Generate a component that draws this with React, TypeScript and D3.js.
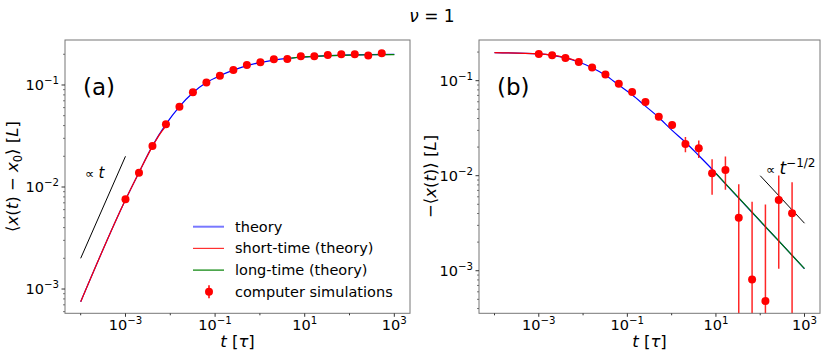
import React from 'react';
import * as d3 from 'd3';

const W = 830;
const H = 358;
const FONT = 'DejaVu Sans, sans-serif';

// simulation times (tau)
const simTimes = [0.001, 0.002, 0.004, 0.008, 0.016, 0.032, 0.064, 0.128, 0.256, 0.512,
  1.024, 2.048, 4.096, 8.192, 16.384, 32.768, 65.536, 131.072, 262.144, 524.288];

// panel (a): <x(t) - x0>
const simA = [0.00757, 0.0138, 0.0252, 0.0412, 0.0612, 0.0848, 0.106, 0.123, 0.140, 0.157,
  0.167, 0.179, 0.180, 0.191, 0.191, 0.197, 0.200, 0.200, 0.195, 0.205];
const errA = [0.0001, 0.0002, 0.0003, 0.0004, 0.0006, 0.0008, 0.001, 0.0012, 0.0015, 0.002,
  0.0025, 0.003, 0.0035, 0.004, 0.004, 0.0043, 0.0044, 0.0045, 0.0045, 0.0045];

// panel (b): -<x(t)>
const simB = [0.191, 0.185, 0.173, 0.157, 0.138, 0.116, 0.093, 0.076, 0.0597, 0.0418,
  0.0342, 0.0216, 0.0194, 0.0106, 0.0115, 0.00361, 0.00081, 0.00048, 0.00555, 0.00402];
const errB = [0.0003, 0.0004, 0.0005, 0.0006, 0.0008, 0.001, 0.0012, 0.0015, 0.002, 0.0025,
  0.003, 0.004, 0.004, 0.0043, 0.0044, 0.0045, 0.0045, 0.0045, 0.0045, 0.0045];

// theory curves
const theoryT = [1e-4, 1e-3, 2e-3, 4e-3, 8e-3, 0.016, 0.032, 0.064, 0.128, 0.256, 0.512,
  1.024, 2.048, 4.096, 8.192, 16.384, 32.768, 65.536, 131.072, 262.144, 1000];
const theoryA = [0.00075, 0.0075, 0.0139, 0.0253, 0.0413, 0.0615, 0.084, 0.1055, 0.1235, 0.140, 0.155,
  0.166, 0.175, 0.182, 0.187, 0.191, 0.194, 0.196, 0.1975, 0.1985, 0.1995];
const theoryB = [0.197, 0.191, 0.185, 0.174, 0.157, 0.137, 0.114, 0.090, 0.071, 0.054, 0.041,
  0.030, 0.0225, 0.0163, 0.0117, 0.0082, 0.0058, 0.0041, 0.0029, 0.00206, 0.00105];

const shortTA = [1e-4, 1e-3, 2e-3, 4e-3, 6e-3, 9e-3];
const shortA = [0.00075, 0.0075, 0.0139, 0.025, 0.0335, 0.042];
const shortTB = [1e-4, 1e-3, 2e-3, 4e-3, 6e-3, 9e-3];
const shortB = [0.197, 0.191, 0.1855, 0.1745, 0.166, 0.154];

const longTA = [5, 10, 30, 100, 300, 1000];
const longA = [0.1837, 0.1885, 0.1933, 0.1964, 0.1979, 0.1988];
const longTB = [10, 100, 1000];
const longB = [0.0106, 0.00334, 0.00105];

// power-law guides
const guideTA = [1e-4, 1e-3];
const guideA = [0.002, 0.02];
const guideTB = [100, 1000];
const guideB = [0.01, 0.00316];

const xTickExp = [-3, -1, 1, 3];
const xMinorExp = [-4, -2, 0, 2];
const yTickExp = [-3, -2, -1];

const legendItems = ['theory', 'short-time (theory)', 'long-time (theory)', 'computer simulations'];

const sup = (e: number) => (e < 0 ? '\u2212' + Math.abs(e) : String(e));

function Panel(props: any) {
  const { id, x0, x1, top, bottom, yDom, sim, err, theory, shortT, short, longT, long, guideT, guide } = props;
  const xs = d3.scaleLog().domain([10 ** -4.35, 10 ** 3.35]).range([x0, x1]);
  const ys = d3.scaleLog().domain(yDom).range([bottom, top]);
  const path = (ts: number[], vs: number[]) =>
    d3.line<number>().x((_, i) => xs(ts[i])).y((d) => ys(d)).curve(d3.curveMonotoneX)(vs) || '';

  const minorY: number[] = [];
  for (let e = -5; e <= 0; e++) {
    for (let m = 2; m <= 9; m++) {
      const v = m * 10 ** e;
      if (v >= yDom[0] && v <= yDom[1]) minorY.push(v);
    }
  }

  return (
    <g>
      <defs>
        <clipPath id={`clip-${id}`}>
          <rect x={x0} y={top} width={x1 - x0} height={bottom - top} />
        </clipPath>
      </defs>
      <g clipPath={`url(#clip-${id})`} fill="none">
        <path d={path(theoryT, theory)} stroke="blue" strokeWidth={1.2} />
        <path d={path(shortT, short)} stroke="red" strokeWidth={1.2} />
        <path d={path(longT, long)} stroke="green" strokeWidth={1.2} />
        <path d={path(guideT, guide)} stroke="black" strokeWidth={1} />
        {sim.map((v: number, i: number) => {
          const lo = v - err[i];
          const yLo = lo > 0 ? ys(lo) : bottom + 2;
          return (
            <line key={`e${i}`} x1={xs(simTimes[i])} x2={xs(simTimes[i])} y1={ys(v + err[i])} y2={yLo}
              stroke="red" strokeOpacity={0.85} strokeWidth={1.5} />
          );
        })}
        {sim.map((v: number, i: number) => (
          <circle key={`p${i}`} cx={xs(simTimes[i])} cy={ys(v)} r={4} fill="red" />
        ))}
      </g>
      <rect x={x0} y={top} width={x1 - x0} height={bottom - top} fill="none" stroke="#777" strokeWidth={1} />
      {xTickExp.map((e) => (
        <g key={`xt${e}`}>
          <line x1={xs(10 ** e)} x2={xs(10 ** e)} y1={bottom} y2={bottom + 3.5} stroke="#333" />
          <text x={xs(10 ** e)} y={bottom + 17} textAnchor="middle" fontSize={14.5} fontFamily={FONT}>
            10<tspan fontSize={10.2} dy={-6}>{sup(e)}</tspan>
          </text>
        </g>
      ))}
      {xMinorExp.map((e) => (
        <line key={`xm${e}`} x1={xs(10 ** e)} x2={xs(10 ** e)} y1={bottom} y2={bottom + 2} stroke="#333" />
      ))}
      {yTickExp.map((e) => (
        <g key={`yt${e}`}>
          <line x1={x0 - 3.5} x2={x0} y1={ys(10 ** e)} y2={ys(10 ** e)} stroke="#333" />
          <text x={x0 - 6} y={ys(10 ** e) + 5} textAnchor="end" fontSize={14.5} fontFamily={FONT}>
            10<tspan fontSize={10.2} dy={-6}>{sup(e)}</tspan>
          </text>
        </g>
      ))}
      {minorY.map((v, i) => (
        <line key={`ym${i}`} x1={x0 - 2} x2={x0} y1={ys(v)} y2={ys(v)} stroke="#555" strokeWidth={0.8} />
      ))}
      <text x={(x0 + x1) / 2} y={347} textAnchor="middle" fontSize={16.5} fontFamily={FONT}>
        <tspan fontStyle="italic">t</tspan> [<tspan fontStyle="italic">τ</tspan>]
      </text>
    </g>
  );
}

export default function App() {
  const common = { top: 40, bottom: 313.3 };
  return (
    <div style={{ position: 'absolute', left: 0, top: 0 }}>
      <svg width={W} height={H} style={{ display: 'block', background: 'white' }}>
        <text x={432} y={22} textAnchor="middle" fontSize={17} fontFamily={FONT}>
          <tspan fontStyle="italic">ν</tspan> = 1
        </text>
        <Panel id="a" x0={65} x1={410} {...common} yDom={[10 ** -3.238, 10 ** -0.559]}
          sim={simA} err={errA} theory={theoryA} shortT={shortTA} short={shortA}
          longT={longTA} long={longA} guideT={guideTA} guide={guideA} />
        <Panel id="b" x0={479} x1={820} {...common} yDom={[10 ** -3.448, 10 ** -0.572]}
          sim={simB} err={errB} theory={theoryB} shortT={shortTB} short={shortB}
          longT={longTB} long={longB} guideT={guideTB} guide={guideB} />

        <text x={83} y={95} fontSize={23} fontFamily={FONT}>(a)</text>
        <text x={497} y={95} fontSize={23} fontFamily={FONT}>(b)</text>

        <text x={85} y={178} fontSize={13} fontFamily={FONT}>
          ∝ <tspan fontStyle="italic" fontSize={15}>t</tspan>
        </text>
        <text x={766} y={174} fontSize={13} fontFamily={FONT}>
          ∝ <tspan fontStyle="italic" fontSize={17}>t</tspan>
          <tspan fontSize={12} dy={-7}>−1/2</tspan>
        </text>

        <text transform="translate(18,176.5) rotate(-90)" textAnchor="middle" fontSize={16.5} fontFamily={FONT}>
          ⟨<tspan fontStyle="italic">x</tspan>(<tspan fontStyle="italic">t</tspan>) − <tspan fontStyle="italic">x</tspan>
          <tspan fontSize={11.5} dy={4}>0</tspan><tspan dy={-4}>⟩ [</tspan>
          <tspan fontStyle="italic">L</tspan>]
        </text>
        <text transform="translate(436,176.5) rotate(-90)" textAnchor="middle" fontSize={16.5} fontFamily={FONT}>
          −⟨<tspan fontStyle="italic">x</tspan>(<tspan fontStyle="italic">t</tspan>)⟩ [<tspan fontStyle="italic">L</tspan>]
        </text>

        {legendItems.map((name, i) => {
          const y = 226.7 + i * 21.7;
          return (
            <g key={name}>
              {i === 0 && <line x1={193} x2={224} y1={y} y2={y} stroke="#7878ff" strokeWidth={2} />}
              {i === 1 && <line x1={193} x2={224} y1={y} y2={y} stroke="#ff3030" strokeWidth={1.2} />}
              {i === 2 && <line x1={193} x2={224} y1={y} y2={y} stroke="green" strokeWidth={1.2} />}
              {i === 3 && (
                <g>
                  <line x1={209} x2={209} y1={y - 6.5} y2={y + 6.5} stroke="red" strokeWidth={1.5} />
                  <circle cx={209} cy={y} r={4} fill="red" />
                </g>
              )}
              <text x={235} y={y + 5} fontSize={14.5} fontFamily={FONT}>{name}</text>
            </g>
          );
        })}
      </svg>
    </div>
  );
}
